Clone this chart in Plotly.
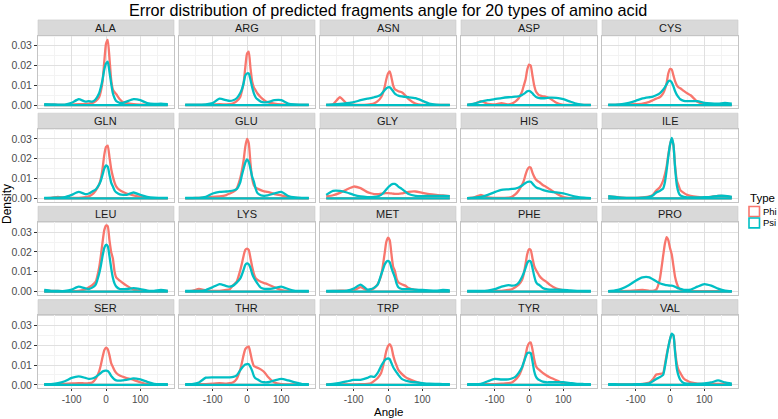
import plotly.graph_objects as go

W, H = 778, 419

AMINO = ["ALA", "ARG", "ASN", "ASP", "CYS",
         "GLN", "GLU", "GLY", "HIS", "ILE",
         "LEU", "LYS", "MET", "PHE", "PRO",
         "SER", "THR", "TRP", "TYR", "VAL"]

ANGLE = [-180, -160, -140, -120, -100, -80, -60, -50, -40, -30, -20, -15, -10, -5, 0,
         5, 10, 15, 20, 25, 30, 40, 50, 60, 80, 100, 120, 140, 160, 180]

ALA_PHI = [.0003, .0003, .0002, .0002, .0003, .0005, .0005, .0008, .001, .002, .004, .007, .012, .022, .031,
           .033, .024, .013, .008, .0065, .0055, .003, .0015, .001, .0005, .0003, .0002, .0002, .0002, .0002]
ALA_PSI = [.0005, .0004, .0003, .0003, .0012, .003, .0018, .002, .0018, .003, .006, .009, .013, .018, .021,
           .022, .017, .011, .006, .0035, .002, .0012, .0012, .0018, .003, .0025, .001, .0006, .0008, .0005]
ARG_PHI = [.0002, .0002, .0002, .0002, .0003, .0005, .0004, .0005, .001, .002, .004, .007, .011, .019, .026,
           .027, .019, .012, .009, .0075, .006, .004, .0025, .0015, .0008, .0004, .0002, .0002, .0002, .0002]
ARG_PSI = [.0003, .0003, .0003, .0004, .001, .0033, .0025, .0022, .0025, .0035, .006, .008, .011, .015, .016,
           .016, .013, .009, .006, .004, .003, .0018, .0014, .0015, .0025, .0025, .0008, .0004, .0003, .0003]
ASN_PHI = [.0002, .0005, .004, .0008, .0003, .0002, .0003, .0005, .001, .002, .004, .006, .009, .013, .016,
           .017, .014, .01, .008, .0075, .007, .0065, .005, .003, .0008, .0002, .0002, .0002, .0002, .0002]
ASN_PSI = [.0003, .0004, .0006, .001, .0015, .0025, .0033, .0036, .004, .0045, .0055, .0065, .0075, .0085, .009,
           .009, .0082, .007, .0058, .0052, .0048, .0044, .0042, .004, .0035, .0022, .0008, .0003, .0002, .0002]
ASP_PHI = [.0002, .0006, .002, .0006, .0004, .001, .0004, .0008, .0018, .0035, .007, .01, .013, .018, .0205,
           .02, .015, .01, .007, .0058, .005, .0045, .0042, .0035, .0012, .0002, .0002, .0002, .0002, .0002]
ASP_PSI = [.0003, .0008, .0018, .0025, .003, .0036, .004, .0041, .0043, .0045, .0052, .0057, .0063, .007, .0072,
           .0068, .006, .005, .0042, .0038, .0036, .0035, .0036, .0038, .0037, .003, .0018, .0007, .0002, .0002]
CYS_PHI = [.0002, .0002, .0003, .0004, .0005, .0008, .0017, .0025, .0033, .004, .006, .008, .011, .016, .0183,
           .018, .015, .012, .01, .009, .0085, .0072, .006, .005, .0017, .0004, .0002, .0002, .0002, .0002]
CYS_PSI = [.0003, .0003, .0005, .0012, .0022, .0034, .004, .0043, .005, .006, .0078, .009, .0105, .012, .0124,
           .0115, .0095, .007, .0052, .004, .003, .0022, .002, .002, .002, .0012, .0009, .0008, .0011, .0008]
GLN_PHI = [.0002, .0003, .0008, .0003, .0003, .0003, .0007, .001, .002, .004, .007, .01, .015, .022, .026,
           .0267, .021, .015, .011, .008, .006, .0042, .0032, .0025, .0015, .0008, .0003, .0002, .0002, .0002]
GLN_PSI = [.0003, .0003, .0004, .0006, .0018, .0033, .0022, .0025, .0035, .0045, .007, .009, .012, .015, .0167,
           .016, .012, .008, .006, .004, .003, .002, .0018, .0018, .003, .0018, .0008, .0004, .0003, .0003]
GLU_PHI = [.0002, .0002, .0003, .0004, .0008, .001, .0017, .0025, .0033, .005, .01, .014, .019, .026, .030,
           .028, .018, .01, .0067, .0055, .005, .0042, .0036, .0033, .0022, .0015, .0006, .0003, .0002, .0002]
GLU_PSI = [.0003, .0003, .0003, .0008, .0025, .0033, .0035, .0037, .004, .0047, .008, .0117, .015, .018, .0197,
           .0185, .015, .011, .0085, .005, .0028, .0016, .0013, .0015, .0025, .0033, .0012, .0005, .0003, .0003]
GLY_PHI = [.001, .0016, .0028, .0045, .006, .0052, .0032, .0026, .0022, .0022, .0024, .0025, .0026, .0027, .0027,
           .0026, .0025, .0024, .0023, .0023, .0023, .0025, .0029, .0033, .0035, .0028, .0022, .0018, .0015, .0012]
GLY_PSI = [.0018, .0038, .0038, .003, .0018, .001, .0007, .0007, .0008, .001, .0018, .0025, .0035, .0045, .0055,
           .0063, .007, .0073, .0073, .0068, .006, .0048, .0035, .0022, .0013, .0012, .0013, .0013, .0013, .0012]
HIS_PHI = [.0002, .0005, .0018, .0005, .0003, .0003, .0004, .0008, .002, .004, .007, .009, .012, .0145, .0157,
           .0155, .013, .011, .0095, .0088, .0083, .0068, .0058, .0047, .0025, .0007, .0002, .0002, .0002, .0002]
HIS_PSI = [.0002, .0004, .0008, .0018, .0032, .0043, .0046, .0048, .005, .0055, .0065, .0072, .0078, .0083, .0085,
           .0084, .0075, .0065, .0057, .0052, .005, .0043, .0038, .0034, .003, .0026, .0016, .0008, .0004, .0002]
ILE_PHI = [.001, .0008, .0004, .0003, .0003, .0005, .001, .0018, .004, .0055, .009, .012, .016, .022, .027,
           .0302, .027, .016, .009, .0065, .0042, .0028, .0018, .0013, .0008, .0005, .0008, .0013, .0012, .0006]
ILE_PSI = [.0012, .0008, .0004, .0003, .0003, .0004, .0008, .0015, .003, .0038, .005, .008, .014, .021, .027,
           .0305, .027, .015, .0065, .003, .0015, .0008, .0005, .0005, .0005, .0006, .0008, .0013, .0013, .0008]
LEU_PHI = [.0003, .0003, .0003, .0002, .0002, .0004, .0012, .0022, .0033, .005, .012, .018, .025, .031, .0333,
           .033, .026, .02, .0167, .01, .007, .0055, .0042, .003, .001, .0004, .0003, .0002, .0003, .0003]
LEU_PSI = [.0008, .0004, .0003, .0003, .001, .0025, .0016, .0013, .002, .0035, .009, .013, .018, .022, .0237,
           .023, .018, .012, .007, .004, .0025, .0013, .0012, .0013, .0017, .0012, .0005, .0004, .0008, .0004]
LYS_PHI = [.0002, .0003, .0013, .0006, .0003, .0004, .0008, .0012, .0033, .005, .0105, .014, .018, .021, .0217,
           .021, .017, .0125, .009, .0068, .006, .005, .0043, .0037, .0021, .0008, .0003, .0002, .0002, .0002]
LYS_PSI = [.0003, .0003, .0004, .0008, .0022, .0038, .0028, .0025, .003, .0045, .0065, .0085, .011, .0135, .0142,
           .0138, .012, .009, .007, .0055, .0042, .002, .0014, .0013, .0018, .0025, .0013, .0004, .0003, .0003]
MET_PHI = [.0002, .0003, .0005, .0004, .0005, .0022, .0005, .0008, .0018, .0038, .008, .013, .019, .025, .0272,
           .026, .019, .0125, .0105, .0065, .0047, .0037, .003, .0018, .0008, .0004, .0002, .0002, .0002, .0002]
MET_PSI = [.0003, .0003, .0003, .0005, .0015, .0035, .001, .0012, .002, .0035, .0085, .011, .0135, .015, .0155,
           .0148, .012, .0095, .0072, .004, .0022, .0013, .0012, .0013, .001, .0008, .0006, .0005, .0008, .0006]
PHE_PHI = [.0002, .0002, .0002, .0003, .0003, .0004, .0008, .0012, .0022, .0035, .006, .009, .014, .019, .0213,
           .021, .017, .013, .011, .0095, .008, .0062, .005, .0035, .0015, .0006, .0002, .0002, .0002, .0002]
PHE_PSI = [.0003, .0003, .0003, .0005, .0012, .0025, .0033, .003, .0032, .0045, .0075, .0095, .012, .0145, .0155,
           .0152, .012, .008, .005, .0038, .0033, .0018, .0012, .001, .001, .0009, .0006, .0004, .0003, .0003]
PRO_PHI = [.0002, .0002, .0002, .0003, .0006, .0008, .0004, .0004, .001, .006, .018, .024, .0275, .026, .022,
           .0188, .013, .0072, .004, .002, .0012, .0004, .0003, .0002, .0002, .0002, .0002, .0002, .0002, .0002]
PRO_PSI = [.0002, .0006, .0015, .0032, .0055, .0072, .0072, .0062, .0052, .0042, .0036, .0034, .0032, .0031, .003,
           .003, .0028, .0024, .002, .0016, .0014, .0009, .0008, .001, .0025, .0038, .003, .0015, .0005, .0002]
SER_PHI = [.0002, .0003, .0004, .0005, .0007, .0009, .0007, .0008, .0012, .003, .0068, .01, .014, .0175, .0188,
           .018, .015, .011, .009, .0072, .006, .0047, .004, .0034, .0025, .0013, .0004, .0002, .0002, .0002]
SER_PSI = [.0003, .0004, .0008, .0018, .0035, .0043, .0035, .003, .0032, .004, .0053, .006, .0067, .0071, .0072,
           .007, .006, .0045, .0035, .0027, .0022, .0021, .0023, .0025, .0033, .0027, .0015, .0005, .0003, .0003]
THR_PHI = [.0002, .0002, .0003, .0004, .0006, .0008, .0006, .0008, .0013, .003, .0075, .011, .015, .018, .019,
           .0193, .016, .012, .0095, .009, .0087, .0078, .0065, .0042, .0012, .0004, .0002, .0002, .0002, .0002]
THR_PSI = [.0003, .0004, .0012, .0036, .0038, .0038, .0038, .0038, .004, .0048, .0073, .0085, .0095, .0102, .0105,
           .0104, .009, .007, .0045, .0032, .0028, .0017, .0013, .0013, .0022, .003, .0022, .0012, .0004, .0003]
TRP_PHI = [.0002, .0002, .0002, .0002, .0002, .0003, .0005, .0008, .002, .0035, .006, .009, .013, .017, .0195,
           .0205, .019, .015, .012, .0097, .0075, .0055, .004, .003, .0016, .0005, .0003, .0002, .0002, .0002]
TRP_PSI = [.0002, .0005, .001, .0017, .0025, .0025, .0035, .0043, .004, .006, .0095, .011, .0123, .013, .0133,
           .013, .011, .009, .0075, .0063, .005, .003, .0022, .0018, .0013, .0009, .0006, .0005, .0004, .0003]
TYR_PHI = [.0002, .0002, .0003, .0003, .0004, .0006, .0008, .0012, .0025, .0045, .0085, .0115, .015, .019, .021,
           .0213, .018, .013, .0095, .0083, .0075, .006, .0048, .0038, .0023, .0008, .0003, .0002, .0002, .0002]
TYR_PSI = [.0003, .0003, .0005, .0018, .003, .0027, .0028, .0032, .004, .006, .009, .0115, .014, .016, .0163,
           .016, .012, .007, .0042, .003, .0024, .0016, .0013, .0013, .0013, .0013, .0009, .0005, .0004, .0003]
VAL_PHI = [.0003, .0002, .0002, .0002, .0003, .0005, .0012, .0028, .0052, .0055, .006, .01, .015, .019, .023,
           .0255, .025, .017, .0105, .0075, .006, .0032, .002, .0012, .0006, .0004, .0004, .0005, .0004, .0003]
VAL_PSI = [.0004, .0003, .0002, .0002, .0003, .0004, .0008, .0018, .003, .0038, .005, .009, .014, .019, .023,
           .0258, .025, .016, .008, .0045, .0025, .0009, .0006, .0005, .0005, .0007, .0012, .0022, .0012, .0006]

Y_TICKS = [0.0, 0.01, 0.02, 0.03]
Y_TICK_TEXT = ["0.00", "0.01", "0.02", "0.03"]
X_TICKS = [-100, 0, 100]
X_TICK_TEXT = ["-100", "0", "100"]

g = globals()
PHI = {a: g[a + "_PHI"] for a in AMINO}
PSI = {a: g[a + "_PSI"] for a in AMINO}

COL_PHI = "#F8766D"
COL_PSI = "#00BFC4"
FONT = "Liberation Sans, Arial, sans-serif"

cols_px = [(38, 174), (179, 315), (320, 456), (461, 597), (602, 738)]
strip_tops = [20, 113.7, 207.3, 301]
STRIP_H = 16
PANEL_H = 73

fig = go.Figure()
layout = {}
shapes = []
annotations = []

for i, aa in enumerate(AMINO):
    r, c = divmod(i, 5)
    n = i + 1
    sfx = "" if n == 1 else str(n)
    xa, ya = "x" + sfx, "y" + sfx
    l, rr = cols_px[c]
    st = strip_tops[r]
    top = st + STRIP_H
    bot = top + PANEL_H
    layout["xaxis" + sfx] = dict(
        domain=[l / W, rr / W], anchor=ya, range=[-198, 198],
        tickvals=X_TICKS, ticktext=X_TICK_TEXT,
        showticklabels=(r == 3), ticks="outside" if r == 3 else "",
        ticklen=2, tickcolor="#333333", tickwidth=1,
        tickfont=dict(size=10, color="#4D4D4D", family=FONT),
        showgrid=True, gridcolor="#E0E0E0", gridwidth=1, zeroline=False,
        minor=dict(tickvals=[-150, -50, 50, 150], showgrid=True, gridcolor="#F3F3F3", gridwidth=0.6),
        showline=True, mirror=True, linecolor="#C4C4C4", linewidth=1, fixedrange=True,
    )
    layout["yaxis" + sfx] = dict(
        domain=[1 - bot / H, 1 - top / H], anchor=xa, range=[-0.00167, 0.035],
        tickvals=Y_TICKS, ticktext=Y_TICK_TEXT,
        showticklabels=(c == 0), ticks="outside" if c == 0 else "",
        ticklen=3, tickcolor="#333333", tickwidth=1,
        tickfont=dict(size=10.5, color="#4D4D4D", family=FONT),
        showgrid=True, gridcolor="#E0E0E0", gridwidth=1, zeroline=False,
        minor=dict(tickvals=[0.005, 0.015, 0.025], showgrid=True, gridcolor="#F3F3F3", gridwidth=0.6),
        showline=True, mirror=True, linecolor="#C4C4C4", linewidth=1, fixedrange=True,
    )
    # strip
    shapes.append(dict(type="rect", xref="paper", yref="paper",
                       x0=l / W, x1=rr / W, y0=1 - top / H, y1=1 - st / H,
                       fillcolor="#D9D9D9", line=dict(color="#C9C9C9", width=0.6), layer="below"))
    annotations.append(dict(xref="paper", yref="paper", x=(l + rr) / 2 / W, y=1 - (st + STRIP_H / 2) / H,
                            text=aa, showarrow=False, xanchor="center", yanchor="middle",
                            font=dict(size=11, color="#1A1A1A", family=FONT)))
    for vals, col in ((PHI[aa], COL_PHI), (PSI[aa], COL_PSI)):
        fig.add_trace(go.Scatter(x=ANGLE, y=vals, xaxis=xa, yaxis=ya, mode="lines",
                                 line=dict(color=col, width=2.3, shape="spline", smoothing=0.5),
                                 showlegend=False, hoverinfo="skip"))
        fig.add_trace(go.Scatter(x=[ANGLE[0], ANGLE[-1]], y=[0, 0], xaxis=xa, yaxis=ya, mode="lines",
                                 line=dict(color=col, width=2.3),
                                 showlegend=False, hoverinfo="skip"))

# title and axis titles
annotations.append(dict(xref="paper", yref="paper", x=388 / W, y=1 - 10 / H,
                        text="Error distribution of predicted fragments angle for 20 types of amino acid",
                        showarrow=False, xanchor="center", yanchor="middle",
                        font=dict(size=16.2, color="#000000", family=FONT)))
annotations.append(dict(xref="paper", yref="paper", x=388 / W, y=1 - 413.5 / H,
                        text="Angle", showarrow=False, xanchor="center", yanchor="middle",
                        font=dict(size=11.5, color="#000000", family=FONT)))
annotations.append(dict(xref="paper", yref="paper", x=7 / W, y=1 - 205 / H,
                        text="Density", showarrow=False, xanchor="center", yanchor="middle", textangle=-90,
                        font=dict(size=12, color="#000000", family=FONT)))

# legend (drawn manually, ggplot style)
annotations.append(dict(xref="paper", yref="paper", x=748 / W, y=1 - 199 / H,
                        text="Type", showarrow=False, xanchor="left", yanchor="middle",
                        font=dict(size=11.5, color="#000000", family=FONT)))
for k, (lab, col) in enumerate((("Phi", COL_PHI), ("Psi", COL_PSI))):
    y0 = 207.5 + k * 11.5
    shapes.append(dict(type="rect", xref="paper", yref="paper",
                       x0=749 / W, x1=759.5 / W, y0=1 - (y0 + 10) / H, y1=1 - y0 / H,
                       fillcolor="white", line=dict(color=col, width=1.6)))
    annotations.append(dict(xref="paper", yref="paper", x=761 / W, y=1 - (y0 + 5) / H,
                            text=lab, showarrow=False, xanchor="left", yanchor="middle",
                            font=dict(size=9.5, color="#000000", family=FONT)))

fig.update_layout(**layout)
fig.update_layout(width=W, height=H, margin=dict(l=0, r=0, t=0, b=0),
                  paper_bgcolor="white", plot_bgcolor="white",
                  shapes=shapes, annotations=annotations, showlegend=False)

fig.write_html("out.html", config={"displayModeBar": False},
               post_script="document.body.style.margin='0';document.body.style.padding='0';"
                           "document.body.style.overflow='hidden';")
